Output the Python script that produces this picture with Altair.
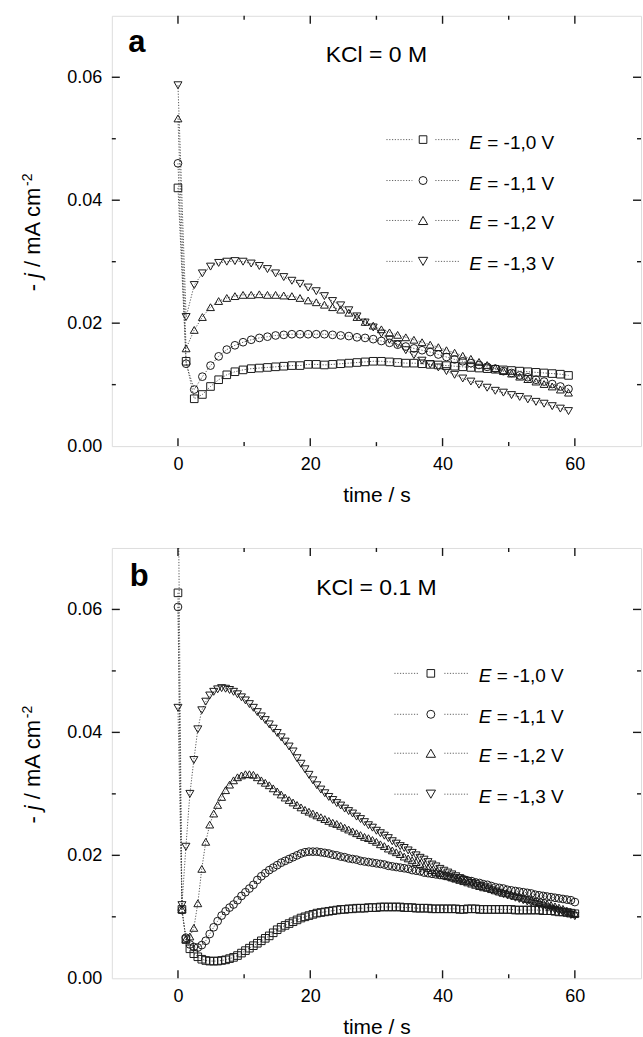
import altair as alt
import pandas as pd

FONT = "Liberation Sans"

# ---------------- data ----------------
times_a = [0.0, 1.23, 2.46, 3.69, 4.92, 6.15, 7.38, 8.61, 9.84, 11.07,
           12.3, 13.53, 14.76, 15.99, 17.22, 18.45, 19.68, 20.91, 22.14, 23.37,
           24.6, 25.83, 27.06, 28.29, 29.52, 30.75, 31.98, 33.21, 34.44, 35.67,
           36.9, 38.13, 39.36, 40.59, 41.82, 43.05, 44.28, 45.51, 46.74, 47.97,
           49.2, 50.43, 51.66, 52.89, 54.12, 55.35, 56.58, 57.81, 59.04]

a_e10 = [0.042, 0.0138, 0.0077, 0.0084, 0.0097, 0.0108, 0.0116, 0.0121, 0.0124, 0.0126,
         0.0127, 0.0128, 0.0129, 0.0130, 0.0131, 0.0131, 0.0133, 0.0133, 0.0132, 0.0133,
         0.0134, 0.0135, 0.0136, 0.0137, 0.0138, 0.0138, 0.0137, 0.0136, 0.0135, 0.0135,
         0.0134, 0.0133, 0.0132, 0.0131, 0.0130, 0.0129, 0.0128, 0.0127, 0.0126, 0.0125,
         0.0124, 0.0123, 0.0122, 0.0121, 0.0120, 0.0119, 0.0118, 0.0117, 0.0115]
a_e11 = [0.046, 0.0134, 0.0092, 0.0113, 0.0131, 0.0146, 0.0157, 0.0164, 0.0169, 0.0173,
         0.0176, 0.0178, 0.0180, 0.0181, 0.0182, 0.0182, 0.0182, 0.0182, 0.0182, 0.0181,
         0.0180, 0.0179, 0.0177, 0.0176, 0.0174, 0.0171, 0.0168, 0.0165, 0.0162, 0.0159,
         0.0156, 0.0153, 0.0149, 0.0145, 0.0141, 0.0138, 0.0135, 0.0132, 0.0129, 0.0126,
         0.0122, 0.0119, 0.0115, 0.0112, 0.0108, 0.0105, 0.0101, 0.0097, 0.0093]
a_e12 = [0.0533, 0.0159, 0.0189, 0.0210, 0.0226, 0.0236, 0.0241, 0.0244, 0.0246, 0.0246,
         0.0247, 0.0246, 0.0246, 0.0245, 0.0244, 0.0241, 0.0237, 0.0234, 0.0230, 0.0226,
         0.0222, 0.0217, 0.0210, 0.0202, 0.0196, 0.0190, 0.0185, 0.0181, 0.0177, 0.0173,
         0.0169, 0.0165, 0.0161, 0.0156, 0.0152, 0.0147, 0.0142, 0.0137, 0.0132, 0.0127,
         0.0122, 0.0118, 0.0113, 0.0109, 0.0105, 0.0101, 0.0097, 0.0092, 0.0087]
a_e13 = [0.0587, 0.0210, 0.0262, 0.0281, 0.0292, 0.0298, 0.0300, 0.0301, 0.0300, 0.0297,
         0.0293, 0.0288, 0.0281, 0.0275, 0.0269, 0.0264, 0.0258, 0.0252, 0.0244, 0.0236,
         0.0229, 0.0221, 0.0211, 0.0201, 0.0193, 0.0183, 0.0173, 0.0166, 0.0156, 0.0148,
         0.0139, 0.0133, 0.0128, 0.0122, 0.0116, 0.0110, 0.0105, 0.0100, 0.0095, 0.0090,
         0.0087, 0.0083, 0.0080, 0.0076, 0.0072, 0.0069, 0.0065, 0.0061, 0.0057]

times_b = [0.0, 0.6, 1.2, 1.8, 2.4, 3.0, 3.6, 4.2, 4.8, 5.4,
           6.0, 6.6, 7.2, 7.8, 8.4, 9.0, 9.6, 10.2, 10.8, 11.4,
           12.0, 12.6, 13.2, 13.8, 14.4, 15.0, 15.6, 16.2, 16.8, 17.4,
           18.0, 18.6, 19.2, 19.8, 20.4, 21.0, 21.6, 22.2, 22.8, 23.4,
           24.0, 24.6, 25.2, 25.8, 26.4, 27.0, 27.6, 28.2, 28.8, 29.4,
           30.0, 30.6, 31.2, 31.8, 32.4, 33.0, 33.6, 34.2, 34.8, 35.4,
           36.0, 36.6, 37.2, 37.8, 38.4, 39.0, 39.6, 40.2, 40.8, 41.4,
           42.0, 42.6, 43.2, 43.8, 44.4, 45.0, 45.6, 46.2, 46.8, 47.4,
           48.0, 48.6, 49.2, 49.8, 50.4, 51.0, 51.6, 52.2, 52.8, 53.4,
           54.0, 54.6, 55.2, 55.8, 56.4, 57.0, 57.6, 58.2, 58.8, 59.4,
           60.0]

b_e10 = [0.0627, 0.0112, 0.0063, 0.0048, 0.0040, 0.0035, 0.0031, 0.0029, 0.0028, 0.0028,
         0.0028, 0.0029, 0.0030, 0.0032, 0.0034, 0.0037, 0.0041, 0.0045, 0.0049, 0.0053,
         0.0057, 0.0061, 0.0065, 0.0069, 0.0074, 0.0079, 0.0083, 0.0086, 0.0089, 0.0092,
         0.0095, 0.0098, 0.0100, 0.0102, 0.0104, 0.0106, 0.0107, 0.0108, 0.0109, 0.0110,
         0.0111, 0.0112, 0.0112, 0.0113, 0.0113, 0.0114, 0.0114, 0.0114, 0.0115, 0.0115,
         0.0115, 0.0116, 0.0116, 0.0116, 0.0116, 0.0116, 0.0116, 0.0115, 0.0115, 0.0115,
         0.0114, 0.0114, 0.0114, 0.0114, 0.0113, 0.0113, 0.0113, 0.0113, 0.0113, 0.0113,
         0.0113, 0.0112, 0.0112, 0.0113, 0.0113, 0.0113, 0.0112, 0.0112, 0.0112, 0.0112,
         0.0112, 0.0112, 0.0112, 0.0112, 0.0112, 0.0111, 0.0111, 0.0111, 0.0111, 0.0111,
         0.0111, 0.0111, 0.0110, 0.0110, 0.0110, 0.0109, 0.0108, 0.0108, 0.0107, 0.0106,
         0.0105]
b_e11 = [0.0604, 0.0111, 0.0066, 0.0055, 0.0051, 0.0050, 0.0054, 0.0061, 0.0072, 0.0083,
         0.0093, 0.0102, 0.0109, 0.0115, 0.0120, 0.0127, 0.0134, 0.0140, 0.0146, 0.0152,
         0.0160, 0.0166, 0.0171, 0.0176, 0.0180, 0.0184, 0.0188, 0.0191, 0.0194, 0.0197,
         0.0200, 0.0203, 0.0205, 0.0206, 0.0206, 0.0206, 0.0205, 0.0204, 0.0203, 0.0201,
         0.0200, 0.0198, 0.0197, 0.0195, 0.0194, 0.0193, 0.0191, 0.0190, 0.0189, 0.0188,
         0.0187, 0.0186, 0.0185, 0.0183, 0.0182, 0.0181, 0.0180, 0.0179, 0.0178, 0.0176,
         0.0175, 0.0174, 0.0172, 0.0171, 0.0170, 0.0169, 0.0168, 0.0167, 0.0166, 0.0164,
         0.0163, 0.0162, 0.0161, 0.0159, 0.0158, 0.0156, 0.0155, 0.0153, 0.0152, 0.0150,
         0.0148, 0.0147, 0.0146, 0.0144, 0.0143, 0.0142, 0.0141, 0.0140, 0.0139, 0.0138,
         0.0136, 0.0135, 0.0134, 0.0133, 0.0132, 0.0131, 0.0130, 0.0129, 0.0128, 0.0127,
         0.0124]
b_e12 = [0.085, 0.0112, 0.0064, 0.0068, 0.0082, 0.0122, 0.0178, 0.0222, 0.0250, 0.0268,
         0.0282, 0.0295, 0.0306, 0.0315, 0.0322, 0.0327, 0.0330, 0.0332, 0.0332, 0.0331,
         0.0327, 0.0322, 0.0318, 0.0314, 0.0309, 0.0304, 0.0299, 0.0294, 0.0290, 0.0286,
         0.0282, 0.0278, 0.0274, 0.0271, 0.0268, 0.0265, 0.0262, 0.0259, 0.0256, 0.0253,
         0.0251, 0.0248, 0.0245, 0.0242, 0.0239, 0.0236, 0.0233, 0.0230, 0.0228, 0.0225,
         0.0222, 0.0218, 0.0215, 0.0211, 0.0208, 0.0205, 0.0202, 0.0198, 0.0195, 0.0192,
         0.0189, 0.0186, 0.0182, 0.0179, 0.0176, 0.0173, 0.0171, 0.0168, 0.0166, 0.0164,
         0.0162, 0.0160, 0.0158, 0.0156, 0.0154, 0.0152, 0.0150, 0.0148, 0.0147, 0.0145,
         0.0143, 0.0141, 0.0139, 0.0138, 0.0136, 0.0134, 0.0133, 0.0131, 0.0129, 0.0128,
         0.0126, 0.0124, 0.0123, 0.0121, 0.0119, 0.0117, 0.0115, 0.0113, 0.0110, 0.0108,
         0.0106]
b_e13 = [0.0440, 0.0119, 0.0214, 0.0300, 0.0355, 0.0405, 0.0436, 0.0450, 0.0460, 0.0466,
         0.0470, 0.0472, 0.0471, 0.0469, 0.0466, 0.0462, 0.0457, 0.0452, 0.0446, 0.0440,
         0.0433, 0.0426, 0.0420, 0.0413, 0.0406, 0.0399, 0.0392, 0.0385, 0.0377, 0.0369,
         0.0358, 0.0349, 0.0340, 0.0331, 0.0322, 0.0314, 0.0307, 0.0301, 0.0295, 0.0290,
         0.0285, 0.0281, 0.0276, 0.0272, 0.0268, 0.0263, 0.0259, 0.0254, 0.0249, 0.0245,
         0.0240, 0.0236, 0.0232, 0.0228, 0.0223, 0.0219, 0.0215, 0.0212, 0.0208, 0.0204,
         0.0200, 0.0196, 0.0193, 0.0189, 0.0185, 0.0182, 0.0178, 0.0175, 0.0172, 0.0169,
         0.0166, 0.0163, 0.0160, 0.0158, 0.0155, 0.0153, 0.0150, 0.0148, 0.0146, 0.0143,
         0.0141, 0.0139, 0.0137, 0.0135, 0.0133, 0.0131, 0.0129, 0.0127, 0.0125, 0.0123,
         0.0121, 0.0119, 0.0117, 0.0115, 0.0113, 0.0111, 0.0109, 0.0107, 0.0105, 0.0103,
         0.0101]

series_names = ["E = -1,0 V", "E = -1,1 V", "E = -1,2 V", "E = -1,3 V"]
legend_rest = ["= -1,0 V", "= -1,1 V", "= -1,2 V", "= -1,3 V"]
shapes = ["square", "circle", "triangle-up", "triangle-down"]
x_major = [0, 20, 40, 60]
x_minor = [10, 30, 50]
y_labels = [0, 0.02, 0.04, 0.06]
y_major = [0.02, 0.04, 0.06]
y_minor = [0.01, 0.03, 0.05]

# ---------------- layout / style ----------------
W, H = 530, 431
sizes = [58, 64, 88, 88]
INK = "#1a1a1a"

xscale = alt.Scale(domain=[-10, 70], nice=False, zero=False)
yscale = alt.Scale(domain=[0, 0.07], nice=False, zero=False)
xaxis = alt.Axis(values=x_major, title="time / s", ticks=False, domain=False, grid=False,
                 labelFont=FONT, labelFontSize=18, labelColor="black", labelPadding=9,
                 titleFont=FONT, titleFontSize=21, titleFontWeight="normal",
                 titleColor="black", titlePadding=11)
yaxis = alt.Axis(values=y_labels, format=".2f", title=None, ticks=False, domain=False,
                 grid=False, labelFont=FONT, labelFontSize=18, labelColor="black",
                 labelPadding=10)


def long_df(times, series_list):
    rows = []
    for name, vals in zip(series_names, series_list):
        for t, v in zip(times, vals):
            rows.append({"t": t, "j": v, "series": name})
    return pd.DataFrame(rows)


def one():
    return pd.DataFrame({"k": [0]})


def txt(text, x, y, size, **kw):
    return alt.Chart(one()).mark_text(text=text, font=FONT, fontSize=size,
                                      color="black", **kw).encode(
        x=alt.value(x), y=alt.value(y))


def panel(times, series_list, kcl, letter, letter_xy, leg):
    df = long_df(times, series_list)
    X = alt.X("t:Q", scale=xscale, axis=xaxis)
    Y = alt.Y("j:Q", scale=yscale, axis=yaxis)
    layers = []
    layers.append(alt.Chart(df).mark_line(clip=True, strokeDash=[1.2, 1.6], strokeWidth=0.9,
                                          color="#444").encode(
        x=X, y=Y, detail="series:N", order="t:Q"))
    layers.append(alt.Chart(df).mark_point(clip=True, filled=False, color=INK, strokeWidth=1,
                                           opacity=1).encode(
        x=X, y=Y,
        shape=alt.Shape("series:N", scale=alt.Scale(domain=series_names, range=shapes), legend=None),
        size=alt.Size("series:N", scale=alt.Scale(domain=series_names, range=sizes), legend=None)))

    # inward ticks on all four sides
    for vals, ln in ((x_major, 8), (x_minor, 4)):
        d = pd.DataFrame({"v": vals})
        XT = alt.X("v:Q", scale=xscale, axis=xaxis)
        layers.append(alt.Chart(d).mark_rule(color=INK, strokeWidth=1.4).encode(
            x=XT, y=alt.value(H), y2=alt.value(H - ln)))
        layers.append(alt.Chart(d).mark_rule(color=INK, strokeWidth=1.4).encode(
            x=XT, y=alt.value(0), y2=alt.value(ln)))
    for vals, ln in ((y_major, 8), (y_minor, 4)):
        d = pd.DataFrame({"v": vals})
        YT = alt.Y("v:Q", scale=yscale, axis=yaxis)
        layers.append(alt.Chart(d).mark_rule(color=INK, strokeWidth=1.4).encode(
            y=YT, x=alt.value(0), x2=alt.value(ln)))
        layers.append(alt.Chart(d).mark_rule(color=INK, strokeWidth=1.4).encode(
            y=YT, x=alt.value(W), x2=alt.value(W - ln)))

    # panel letter and condition
    layers.append(txt(letter, letter_xy[0], letter_xy[1], 31, fontWeight="bold",
                      align="left", baseline="alphabetic"))
    layers.append(txt(kcl, 265, 46.7, 23, align="center", baseline="alphabetic"))

    # legend
    lx0, lx1, sx, rx0, rx1, tx, rows = leg
    for i in range(4):
        sy = rows[i]
        layers.append(alt.Chart(one()).mark_rule(color="#555", strokeWidth=0.9,
                                                 strokeDash=[1.2, 1.6]).encode(
            x=alt.value(lx0), x2=alt.value(lx1), y=alt.value(sy)))
        layers.append(alt.Chart(one()).mark_rule(color="#555", strokeWidth=0.9,
                                                 strokeDash=[1.2, 1.6]).encode(
            x=alt.value(rx0), x2=alt.value(rx1), y=alt.value(sy)))
        layers.append(alt.Chart(one()).mark_point(shape=shapes[i], size=sizes[i], filled=False,
                                                  color=INK, strokeWidth=1, opacity=1).encode(
            x=alt.value(sx), y=alt.value(sy)))
        layers.append(txt("E", tx, sy + 3, 19, fontStyle="italic", align="left",
                          baseline="middle"))
        layers.append(txt(legend_rest[i], tx + 18, sy + 3, 19, align="left",
                          baseline="middle"))

    # y-axis title  "- j / mA cm-2"
    bx = -72
    y0 = 276
    layers.append(txt("-", bx, y0, 22, angle=270, align="left", baseline="alphabetic"))
    layers.append(txt("j", bx, y0 - 13.4, 22, angle=270, align="left", baseline="alphabetic",
                      fontStyle="italic"))
    layers.append(txt("/ mA cm", bx, y0 - 24.4, 22, angle=270, align="left",
                      baseline="alphabetic"))
    layers.append(txt("-2", bx - 8, y0 - 105.5, 14, angle=270, align="left",
                      baseline="alphabetic"))

    return alt.layer(*layers).properties(width=W, height=H)


pa = panel(times_a, [a_e10, a_e11, a_e12, a_e13], "KCl = 0 M", "a", (16.5, 36.7),
           (275, 301, 311.7, 324, 348.5, 358, [124, 165, 205, 246]))
pb = panel(times_b, [b_e10, b_e11, b_e12, b_e13], "KCl = 0.1 M", "b", (18, 38.3),
           (283, 308, 319.5, 333, 357.5, 367.5, [125.6, 166.6, 205.6, 246.6]))

chart = alt.vconcat(pa, pb, spacing=40).properties(
    padding={"left": 20, "top": 13, "right": 0, "bottom": 5}
).configure_view(stroke=INK, strokeWidth=1.6).configure(font=FONT)

chart.save("out.html", embed_options={"renderer": "svg", "actions": False})
